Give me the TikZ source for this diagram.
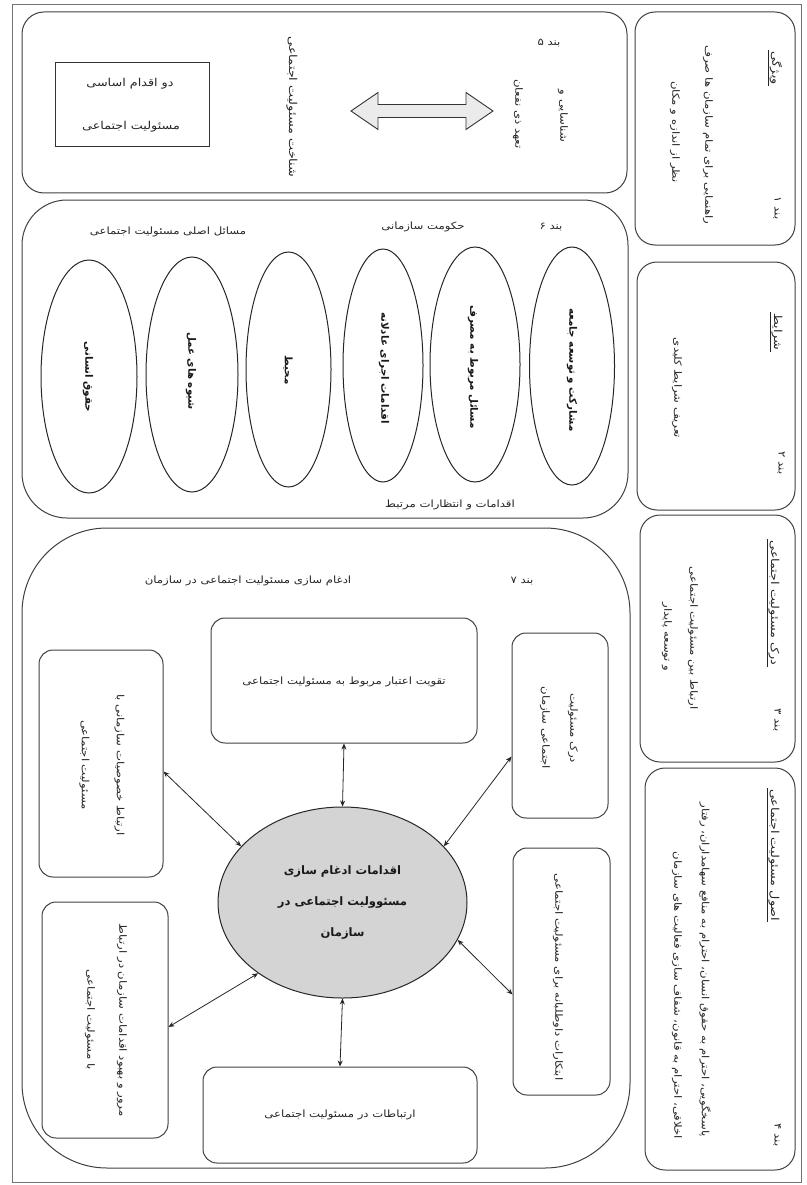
\documentclass[tikz,border=0pt]{standalone}
\usepackage{fontspec}
\newfontfamily\arabicfont[Script=Arabic,FakeStretch=1.17]{DejaVu Sans}
\newfontfamily\arabicbf[Script=Arabic]{DejaVu Sans Bold}
\TeXXeTstate=1
\newcommand{\fatext}[1]{\beginR #1\endR}
\usetikzlibrary{shapes.geometric,arrows.meta}
\begin{document}
\begin{tikzpicture}[x=1pt,y=-1pt,
  rbox/.style={draw=black!75, line width=1pt, inner sep=0pt},
  txt/.style={font=\arabicfont\fontsize{10}{12}\selectfont, text=black!85, inner sep=1pt},
  bigtxt/.style={font=\arabicfont\fontsize{10.9}{13}\selectfont, text=black!85, inner sep=1pt},
  vtxt/.style={txt, rotate=-90},
  ttl/.style={bigtxt, rotate=-90},
  btxt/.style={font=\arabicbf\fontsize{10.3}{12}\selectfont, text=black!90, inner sep=1pt, rotate=-90},
  oval/.style={ellipse, draw=black!85, line width=1pt, inner sep=0pt},
  link/.style={{Stealth[length=6pt,width=5pt]}-{Stealth[length=6pt,width=5pt]}, line width=0.8pt, black!85},
  uline/.style={line width=0.8pt, black!85},
  frame/.style={line width=0.6pt, black!55}
]
\useasboundingbox (0,0) rectangle (806,1185);
\draw[frame] (12,4) rectangle (801,1182);

% ---------- right column ----------
\node[rbox, rounded corners=20pt, minimum width=160pt, minimum height=233pt] (b1) at (715,128.5) {};
\node[ttl] (b1t) at (776,68) {\fatext{ویژگی}};
\draw[uline] (b1t.south west) -- (b1t.south east);
\node[vtxt] (b1n) at (777,208) {\fatext{بند ۱}};
\node[vtxt] (b1a) at (708,135) {\fatext{راهنمایی برای تمام سازمان ها صرف}};
\node[vtxt] (b1b) at (675,132) {\fatext{نظر از اندازه و مکان}};

\node[rbox, rounded corners=20pt, minimum width=158pt, minimum height=248pt] (b2) at (716,386) {};
\node[ttl] (b2t) at (777,332) {\fatext{شرایط}};
\draw[uline] (b2t.south west) -- (b2t.south east);
\node[vtxt] (b2a) at (677,388) {\fatext{تعریف شرایط کلیدی}};
\node[vtxt] (b2n) at (781,463) {\fatext{بند ۲}};

\node[rbox, rounded corners=20pt, minimum width=155pt, minimum height=247pt] (b3) at (717.5,638.5) {};
\node[ttl] (b3t) at (774,603) {\fatext{درک مسئولیت اجتماعی}};
\draw[uline] (b3t.south west) -- (b3t.south east);
\node[vtxt] (b3a) at (693,638) {\fatext{ارتباط بین مسئولیت اجتماعی}};
\node[vtxt] (b3b) at (667,637) {\fatext{و توسعه پایدار}};
\node[vtxt] (b3n) at (777,720) {\fatext{بند ۳}};

\node[rbox, rounded corners=20pt, minimum width=150pt, minimum height=402pt] (b4) at (720,969) {};
\node[ttl] (b4t) at (774,855) {\fatext{اصول مسئولیت اجتماعی}};
\draw[uline] (b4t.south west) -- (b4t.south east);
\node[vtxt, anchor=east] (b4a) at (705,1138) {\fatext{پاسخگویی، احترام به حقوق انسان، احترام به منافع سهامداران، رفتار}};
\node[vtxt, anchor=east] (b4b) at (677,1140) {\fatext{اخلاقی، احترام به قانون، شفاف سازی فعالیت های سازمان}};
\node[vtxt] (b4n) at (777,1135) {\fatext{بند ۴}};

% ---------- bond 5 ----------
\node[rbox, rounded corners=22pt, minimum width=605pt, minimum height=181pt] (b5) at (324.5,102.5) {};
\node[txt] (b5n) at (549,43) {\fatext{بند ۵}};
\node[vtxt] (b5a) at (563,116) {\fatext{شناسایی و}};
\node[vtxt] (b5b) at (518,114) {\fatext{تعهد ذی نفعان}};
\draw[line width=0.9pt, black!80, fill=black!8]
  (351,111) -- (378,92.5) -- (378,104.5) -- (466,104.5) -- (466,92.5) -- (493,111)
  -- (466,129.5) -- (466,117.5) -- (378,117.5) -- (378,129.5) -- cycle;
\node[ttl] (b5c) at (292,107) {\fatext{شناخت مسئولیت اجتماعی}};
\node[draw=black!80, line width=1pt, minimum width=154pt, minimum height=84pt] (b5r) at (132,105) {};
\node[bigtxt] (b5r1) at (130,84) {\fatext{دو اقدام اساسی}};
\node[bigtxt] (b5r2) at (131,127) {\fatext{مسئولیت اجتماعی}};

% ---------- bond 6 ----------
\node[rbox, rounded corners=45pt, minimum width=606pt, minimum height=318pt] (b6) at (325,359) {};
\node[txt] (b6n) at (551,227) {\fatext{بند ۶}};
\node[txt] (b6g) at (423,227) {\fatext{حکومت سازمانی}};
\node[txt] (b6m) at (168,232) {\fatext{مسائل اصلی مسئولیت اجتماعی}};
\node[oval, minimum width=85pt, minimum height=238pt] (e1) at (572,366) {};
\node[oval, minimum width=90pt, minimum height=235pt] (e2) at (475,364.5) {};
\node[oval, minimum width=80pt, minimum height=233pt] (e3) at (383,365.5) {};
\node[oval, minimum width=85pt, minimum height=235pt] (e4) at (288.5,369.5) {};
\node[oval, minimum width=92pt, minimum height=235pt] (e5) at (192,374.5) {};
\node[oval, minimum width=96pt, minimum height=233pt] (e6) at (89,376.5) {};
\node[btxt] at (572,370) {\fatext{مشارکت و توسعه جامعه}};
\node[btxt] at (473,367) {\fatext{مسائل مربوط به مصرف}};
\node[btxt] at (384,368) {\fatext{اقدامات اجرای عادلانه}};
\node[btxt] at (288,370) {\fatext{محیط}};
\node[btxt] at (191,371) {\fatext{شیوه های عمل}};
\node[btxt] at (88,377) {\fatext{حقوق انسانی}};
\node[txt] (b6b) at (450,505) {\fatext{اقدامات و انتظارات مرتبط}};

% ---------- bond 7 ----------
\node[rbox, rounded corners=85pt, minimum width=608pt, minimum height=640pt] (b7) at (326,848) {};
\node[txt] (b7n) at (522,581) {\fatext{بند ۷}};
\node[txt] (b7t) at (248,581) {\fatext{ادغام سازی مسئولیت اجتماعی در سازمان}};

\node[rbox, rounded corners=14pt, minimum width=266pt, minimum height=125pt] (tb) at (344,680.5) {};
\node[txt] at (344,682) {\fatext{تقویت اعتبار مربوط به مسئولیت اجتماعی}};

\node[rbox, rounded corners=14pt, minimum width=96pt, minimum height=185pt] (ru) at (560,725.5) {};
\node[vtxt, align=center, font=\arabicfont\fontsize{10}{28}\selectfont] at (559,728) {\fatext{درک مسئولیت}\\\fatext{اجتماعی سازمان}};

\node[rbox, rounded corners=14pt, minimum width=97pt, minimum height=247pt] (rl) at (561.5,971.5) {};
\node[vtxt] at (558,977) {\fatext{ابتکارات داوطلبانه برای مسئولیت اجتماعی}};

\node[rbox, rounded corners=14pt, minimum width=274pt, minimum height=96pt] (bb) at (340,1115) {};
\node[txt] at (340,1115) {\fatext{ارتباطات در مسئولیت اجتماعی}};

\node[rbox, rounded corners=14pt, minimum width=124pt, minimum height=227pt] (lu) at (101,763.5) {};
\node[vtxt, align=center, font=\arabicfont\fontsize{10}{35}\selectfont] at (102,765) {\fatext{ارتباط خصوصیات سازمانی با}\\\fatext{مسئولیت اجتماعی}};

\node[rbox, rounded corners=14pt, minimum width=126pt, minimum height=236pt] (ll) at (105,1020) {};
\node[vtxt, align=center, font=\arabicfont\fontsize{10}{32}\selectfont] at (106,1020) {\fatext{مرور و بهبود اقدامات سازمان در ارتباط}\\\fatext{با مسئولیت اجتماعی}};

\node[oval, fill=black!17, minimum width=249pt, minimum height=191pt] (c) at (342.5,902.5) {};
\node[align=center, font=\arabicbf\fontsize{11.6}{31}\selectfont, text=black!90] at (342.5,902) {\fatext{اقدامات  ادغام سازی}\\\fatext{مسئوولیت اجتماعی در}\\\fatext{سازمان}};

\draw[link] (tb.south) -- (c.north);
\draw[link] (c.south) -- (bb.north);
\draw[link] ([yshift=-8pt]lu.east) -- (c.151);
\draw[link] ([yshift=-7pt]ll.east) -- (c.220);
\draw[link] ([yshift=-31pt]ru.west) -- (c.29);
\draw[link] (c.-18) -- ([yshift=-23pt]rl.west);
\end{tikzpicture}
\end{document}
